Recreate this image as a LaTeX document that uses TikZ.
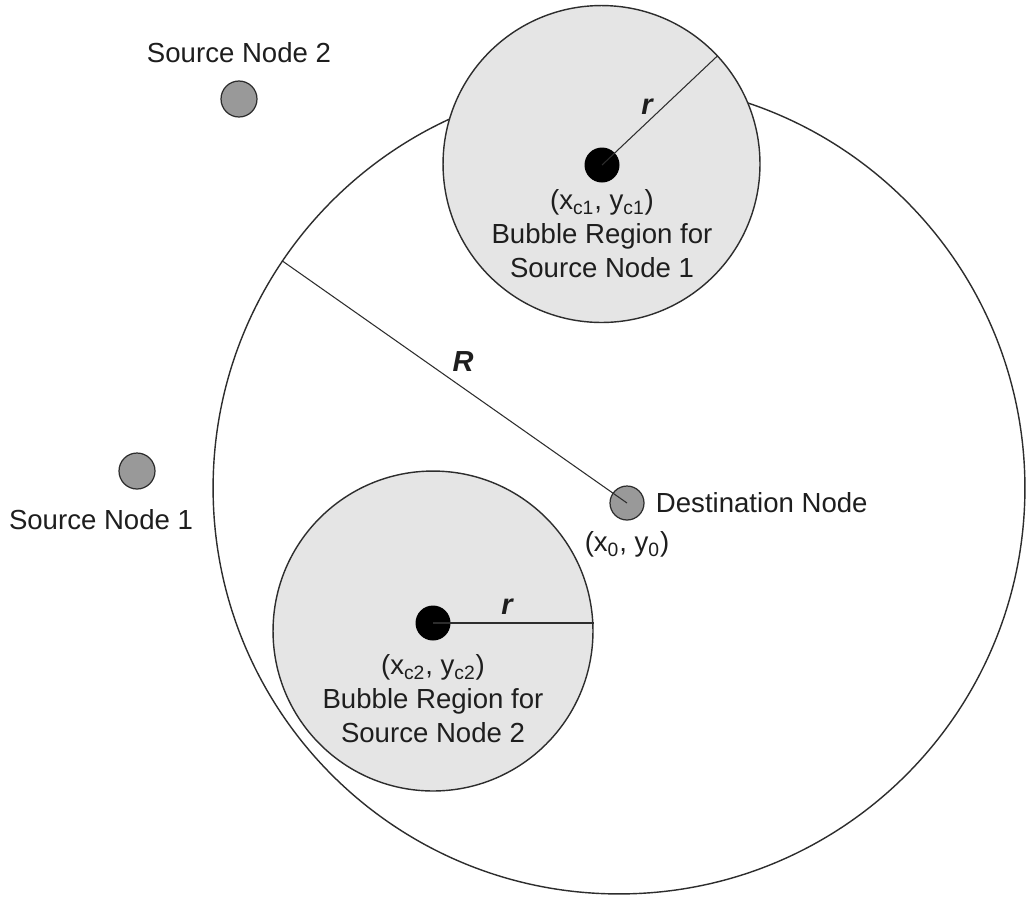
\documentclass[tikz,border=0pt]{standalone}
\usepackage{fontspec}
\setmainfont{Liberation Sans}
\usepackage{tikz}
\usetikzlibrary{positioning,calc}
\definecolor{linegray}  {RGB}{45,45,45}
\definecolor{bubblegray}{RGB}{229,229,229}
\definecolor{nodegray}  {RGB}{153,153,153}
\definecolor{textgray}  {RGB}{30,30,30}
\tikzset{
  covercirc/.style={circle, draw=linegray, line width=0.8pt,
                    minimum size=16.24cm, inner sep=0pt},
  bubble/.style   ={circle, draw=linegray, fill=bubblegray, line width=0.8pt,
                    minimum size=#1, inner sep=0pt},
  bubble/.default=6.36cm,
  srcnode/.style  ={circle, draw=linegray, fill=nodegray, line width=0.7pt,
                    minimum size=0.72cm, inner sep=0pt},
  dstnode/.style  ={srcnode, minimum size=0.68cm},
  ctrdot/.style   ={circle, fill=black, minimum size=0.7cm, inner sep=0pt},
  lbl/.style      ={font=\fontsize{15.7pt}{19.3pt}\selectfont, text=textgray,
                    inner sep=0pt},
  radlbl/.style   ={lbl, font=\fontsize{16.5pt}{19.3pt}\selectfont\bfseries\itshape},
  radline/.style  ={draw=linegray, line width=0.6pt},
}

\begin{document}
\begin{tikzpicture}[x=0.02cm,y=-0.02cm]
  \useasboundingbox[fill=white] (0,0) rectangle (1026,897);
  % coverage circle and bubble regions
  \node[covercirc] (cover) at (619,488) {};
  \node[bubble=6.34cm] (bub1) at (601.5,164) {};
  \node[bubble=6.40cm] (bub2) at (433,631) {};
  % nodes
  \node[srcnode] (src2) at (239,99) {};
  \node[srcnode] (src1) at (137,471) {};
  \node[dstnode] (dst) at (627,503) {};
  \node[ctrdot] (ctr1) at (602,165) {};
  \node[ctrdot] (ctr2) at (433,623) {};
  % radii
  \draw[radline] (cover.146) -- (dst.center);
  \draw[radline] (ctr1.center) -- (bub1.43);
  \draw[radline] (ctr2.center) -- (ctr2 -| bub2.east);
  \node[radlbl] (Rlbl) at (463,362) {R};
  \node[radlbl] (r1lbl) at (647,107) {r};
  \node[radlbl] (r2lbl) at (507,607) {r};
  % labels
  \node[lbl, above=0.34cm of src2] (src2lbl) {Source Node 2};
  \node[lbl, below=0.4cm of src1, xshift=-0.72cm] (src1lbl) {Source Node 1};
  \node[lbl, right=0.22cm of dst] (dstlbl) {Destination Node};
  \node[lbl, below=0.22cm of dst] (dstxy) {(x\textsubscript{0}, y\textsubscript{0})};
  \node[lbl, align=center, below=0.13cm of ctr1] (bub1lbl)
    {(x\textsubscript{c1}, y\textsubscript{c1})\\Bubble Region for\\Source Node 1};
  \node[lbl, align=center, below=0.27cm of ctr2] (bub2lbl)
    {(x\textsubscript{c2}, y\textsubscript{c2})\\Bubble Region for\\Source Node 2};
\end{tikzpicture}
\end{document}
